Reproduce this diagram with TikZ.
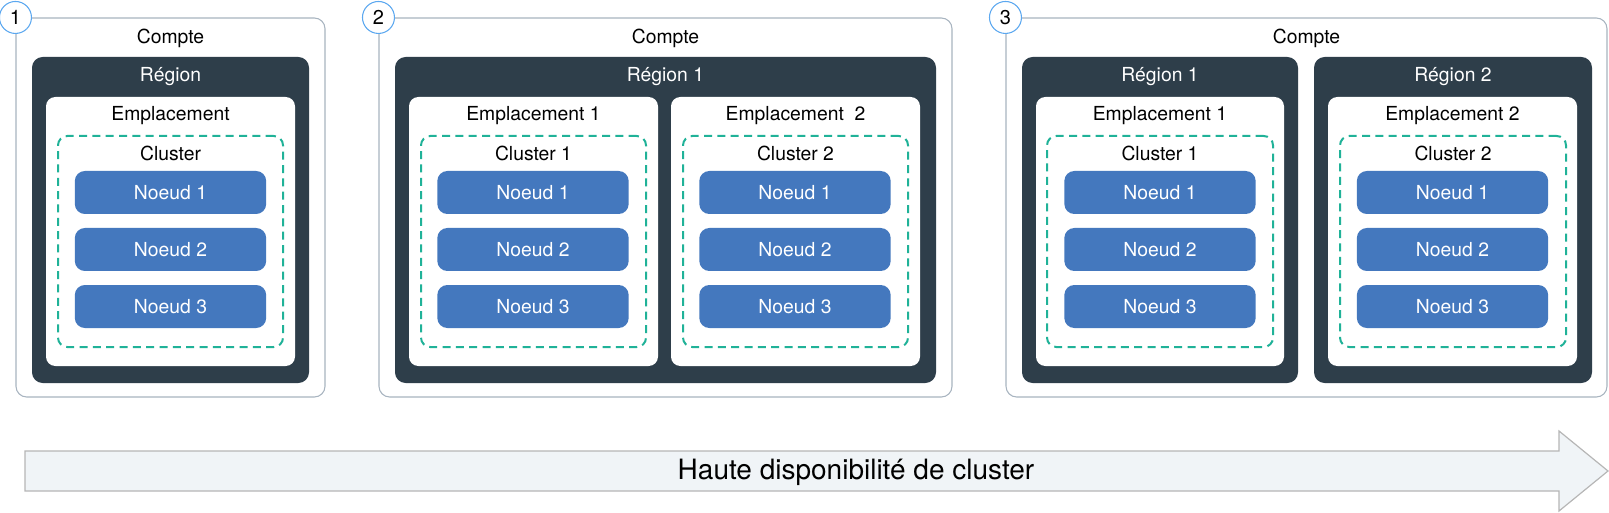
\documentclass[tikz,border=0pt]{standalone}
\usepackage{fontspec}
\setmainfont{TeX Gyre Heros}
\usetikzlibrary{positioning,fit,calc}
\definecolor{comptecolor}{RGB}{168,180,192}
\definecolor{numcolor}{RGB}{92,168,240}
\definecolor{regcolor}{RGB}{46,62,74}
\definecolor{clucolor}{RGB}{32,178,152}
\definecolor{noecolor}{RGB}{68,120,190}
\definecolor{flecolor}{RGB}{240,244,247}
\definecolor{fledraw}{RGB}{182,182,182}
\tikzset{
  box/.style     = {rectangle, inner sep=0pt},
  compte/.style  = {box, draw=comptecolor, fill=white, line width=0.8pt, rounded corners=8pt},
  region/.style  = {box, fill=regcolor, rounded corners=8pt},
  emplac/.style  = {box, fill=white, rounded corners=7pt},
  cluster/.style = {box, draw=clucolor, line width=1.5pt,
                    dash pattern=on 6pt off 4pt, rounded corners=7pt},
  noeud/.style   = {rectangle, rounded corners=7.5pt, fill=noecolor, text=white,
                    minimum width=143.5pt, minimum height=32.25pt, inner sep=0pt,
                    font=\fontsize{14.5}{16}\selectfont},
  numero/.style  = {circle, draw=numcolor, fill=white, line width=0.8pt,
                    minimum size=24pt, inner sep=0pt, font=\fontsize{15}{16}\selectfont},
  titre/.style   = {inner sep=0pt, font=\fontsize{14.5}{16}\selectfont},
  titreb/.style  = {titre, text=white},
  fleche/.style  = {draw=fledraw, fill=flecolor, line width=0.9pt}
}

\begin{document}
\begin{tikzpicture}[x=0.75pt,y=-0.75pt]
\useasboundingbox (0,0) rectangle (1609,513);

% --- comptes ---
\node[compte, fit={(16,18) (325,397)}]   (c1) {};
\node[compte, fit={(379,18) (952,397)}]  (c2) {};
\node[compte, fit={(1006,18) (1607,397)}] (c3) {};
\foreach \i in {1,2,3}{
  \node[numero] (num\i) at (c\i.north west) {\i};
  \node[titre] (tc\i) at ($(c\i.north)+(0,21)$) {Compte};
}

% --- regions ---
\foreach \l/\r/\nom/\lab in {32/309/a/{Région}, 395/936/b/{Région 1},
                             1022/1298/c/{Région 1}, 1314/1592/d/{Région 2}}{
  \node[region, fit={(\l,57) (\r,383)}] (r\nom) {};
  \node[titreb] (tr\nom) at ($(r\nom.north)+(0,20)$) {\lab};
}

% --- emplacements and clusters ---
\foreach \el/\er/\cl/\cr/\nom/\elab/\clab in {
    46/295/58/283/a/{Emplacement}/{Cluster},
    409/658/421/646/b/{Emplacement 1}/{Cluster 1},
    671/920/683/908/c/{Emplacement~ 2}/{Cluster 2},
    1036/1284/1047/1273/d/{Emplacement 1}/{Cluster 1},
    1328/1577/1340/1566/e/{Emplacement 2}/{Cluster 2}}{
  \node[emplac, fit={(\el,97) (\er,366)}] (e\nom) {};
  \node[titre] (te\nom) at ($(e\nom.north)+(0,19)$) {\elab};
  \node[cluster, fit={(\cl,136) (\cr,347)}] (k\nom) {};
  \node[titre] (tk\nom) at ($(k\nom.north)+(0,18)$) {\clab};
}

% --- noeuds ---
\foreach \cx/\nom in {170.5/a, 533/b, 795/c, 1160/d, 1452.5/e}{
  \foreach \y/\k in {192.5/1, 249.5/2, 306.5/3}{
    \node[noeud] (n\nom\k) at (\cx,\y) {Noeud \k};
  }
}

% --- fleche ---
\draw[fleche] (25,451) -- (1559,451) -- (1559,431) -- (1608,471)
  -- (1559,511) -- (1559,491) -- (25,491) -- cycle;
\node[inner sep=0pt, font=\fontsize{21}{24}\selectfont] (hd) at (856,472)
  {Haute disponibilité de cluster};

\end{tikzpicture}
\end{document}
